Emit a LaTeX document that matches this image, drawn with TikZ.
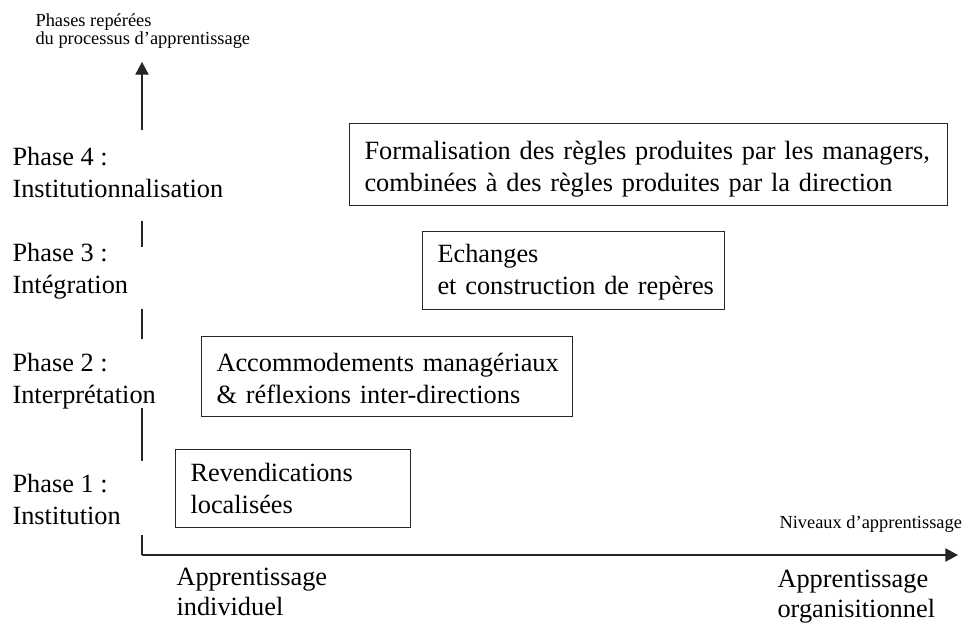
\documentclass[tikz,border=0pt]{standalone}
\usepackage{fontspec}
\setmainfont{Liberation Serif}
\usetikzlibrary{arrows.meta,positioning}

\begin{document}
\begin{tikzpicture}[x=0.75pt, y=-0.75pt, >={Triangle[length=9.5pt,width=10pt]}, line width=0.8pt, draw=black!85]
		 \tikzstyle{phase} = [anchor=base west, inner sep=0pt, align=left, font=\fontsize{19.75}{24}\selectfont];
		 \tikzstyle{level} = [phase, font=\fontsize{19.75}{22}\selectfont];
		 \tikzstyle{levelbox} = [draw=black!85, anchor=north west, align=left, inner xsep=11.25pt, inner ysep=0pt, font=\fontsize{19.75}{24}\selectfont];
		 \tikzstyle{axislabel} = [anchor=base west, inner sep=0pt, align=left, font=\fontsize{13.8}{14.2}\selectfont];

		 \useasboundingbox (0,0) rectangle (966,624);

		 % axes
		 \coordinate (O)    at (142,555);
		 \coordinate (Ytop) at (142,62);
		 \coordinate (Xend) at (958,555);
		 \coordinate (Y1)   at (142,535);
		 \coordinate (Y4)   at (142,130);

		 \draw [->] (Y4) -- (Ytop);
		 \draw (Y1) -- (O);
		 \draw [->] (O) -- (Xend);
		 \foreach \a/\b in {221/247, 309/339, 408/461}
		 		\draw (142,\a) -- (142,\b);

		 \node [axislabel] (yname) at (35,45)  {Phases repérées\\du processus d’apprentissage};
		 \node [axislabel] (xname) at (779,528) {Niveaux d’apprentissage};

		 % phases
		 \node [phase] (P4) at (12,197) {Phase 4 :\\Institutionnalisation};
		 \node [phase] (P3) at (12,293) {Phase 3 :\\Intégration};
		 \node [phase] (P2) at (12,403) {Phase 2 :\\Interprétation};
		 \node [phase] (P1) at (12,524) {Phase 1 :\\Institution};

		 % niveaux
		 \node [level] (indiv) at (176,615) {Apprentissage\\individuel};
		 \node [level] (orga)  at (777,617) {Apprentissage\\organisitionnel};

		 % boites
		 \node [levelbox, text width=426pt, text height=20pt, minimum height=61.5pt] (B4) at (349,123)
		 		{\mbox{Formalisation des règles produites par les managers,}\\combinées à des règles produites par la direction};
		 \node [levelbox, text width=204pt, text height=16pt, minimum height=58.5pt] (B3) at (422,231)
		 		{Echanges\\\mbox{et construction de repères}};
		 \node [levelbox, text width=255.75pt, text height=16pt, minimum height=60pt] (B2) at (201,336)
		 		{\mbox{Accommodements managériaux}\\\& réflexions inter-directions};
		 \node [levelbox, text width=153.75pt, minimum height=58.5pt] (B1) at (175,449)
		 		{Revendications\\localisées};
\end{tikzpicture}
\end{document}
